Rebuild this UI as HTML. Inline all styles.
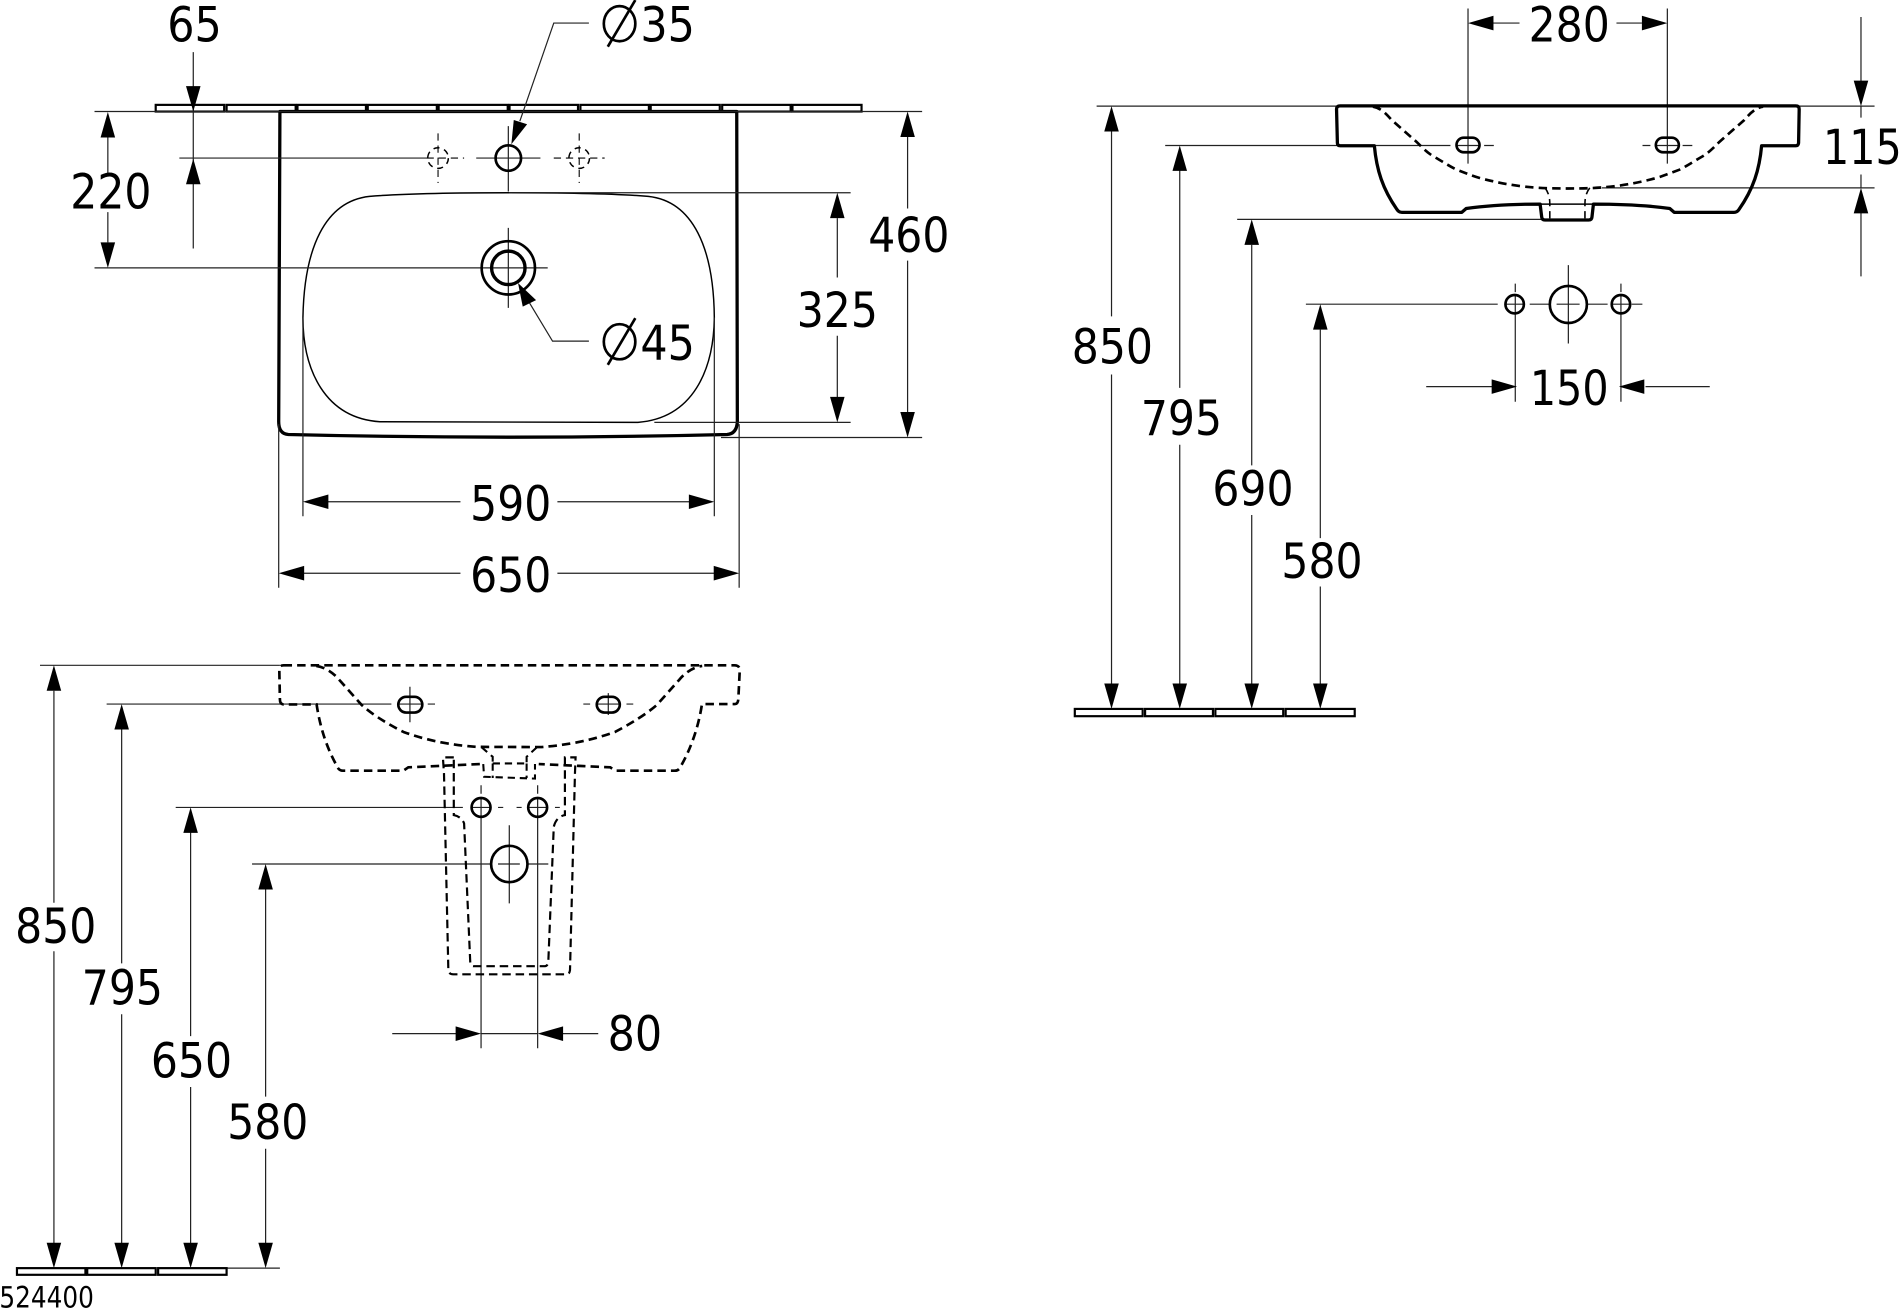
<!DOCTYPE html>
<html>
<head>
<meta charset="utf-8">
<style>
html,body{margin:0;padding:0;background:#fff}
svg{display:block}
text{font-family:"DejaVu Sans","Liberation Sans",sans-serif;font-size:40px;fill:#000;text-anchor:middle}
.d{fill:none;stroke:#222;stroke-width:1}
.s{fill:none;stroke:#000;stroke-width:2.7;stroke-linejoin:round}
.m{fill:none;stroke:#000;stroke-width:2.2}
.n{fill:none;stroke:#000;stroke-width:1.2}
.h{fill:none;stroke:#000;stroke-width:2.2;stroke-dasharray:7 4.200}
.c{fill:none;stroke:#000;stroke-width:.9;stroke-dasharray:6 4}
.t{fill:#fff;stroke:#000;stroke-width:1.8}
</style>
</head>
<body>
<svg xmlns="http://www.w3.org/2000/svg" width="1900" height="1310" viewBox="0 0 1568 1081">
<defs>
<polygon id="u" points="0,0 -6,21 6,21"/>
<polygon id="o" points="0,0 -6,-21 6,-21"/>
<polygon id="l" points="0,0 21,-6 21,6"/>
<polygon id="r" points="0,0 -21,-6 -21,6"/>
</defs>
<rect width="1568" height="1081" fill="#fff"/>

<!-- TOP VIEW -->
<g class="t">
<rect x="128.500" y="86.500" width="56.500" height="5.500"/><rect x="187" y="86.500" width="57" height="5.500"/><rect x="245.500" y="86.500" width="56.500" height="5.500"/><rect x="303.500" y="86.500" width="57" height="5.500"/><rect x="362" y="86.500" width="57" height="5.500"/><rect x="420.500" y="86.500" width="56.500" height="5.500"/><rect x="479" y="86.500" width="56.500" height="5.500"/><rect x="537" y="86.500" width="57" height="5.500"/><rect x="596" y="86.500" width="56.500" height="5.500"/><rect x="654" y="86.500" width="57" height="5.500"/>
</g>
<path class="s" d="M231,92 L230,348 Q230,358 238,358.500 Q420,363 600,358.500 Q608,358 608.500,348 L608,92 Z"/>
<path class="n" d="M420,159 C375,159 335,159.500 305,162 C268,166 251,205 250,262 C250,305 268,345 313.500,348 L526.500,348.500 C572,345 589,305 589.500,262 C589,205 572,166 535,162 C505,159.500 465,159 420,159 Z"/>
<path class="d" d="M78,92H761 M148,130.400H352 M78,221H452 M420,159H702 M540,348.500H702 M595,361H761
M159.500,43V205 M89,113V143 M89,175V200
M749,113V172 M749,215V340 M691,180V229 M691,277V328
M270,414H380 M460,414H569 M250,262V426 M589.500,262V426
M250,473H380 M460,473H590 M230,350V485 M610,350V485
M419.500,104V158 M393,130.400H446 M419.500,188V254
M486,19H457 L429,100 M486,281.500H456 L437,250"/>
<circle class="m" cx="419.500" cy="130.400" r="10.500"/>
<circle class="m" cx="419.500" cy="221" r="22"/>
<circle cx="419.500" cy="221" r="13.800" fill="none" stroke="#000" stroke-width="2.800"/>
<circle cx="361.500" cy="130.400" r="8.500" fill="none" stroke="#000" stroke-width="1.200" stroke-dasharray="5 4"/>
<circle cx="478" cy="130.400" r="8.500" fill="none" stroke="#000" stroke-width="1.200" stroke-dasharray="5 4"/>
<path class="c" d="M361.500,110V151 M352,130.400H383 M478,110V151 M457,130.400H499"/>
<polygon points="422,119 424,99 435,102.500"/>
<polygon points="427.500,233.500 431.400,253 442.400,247.600"/>
<use href="#o" x="159.500" y="92"/><use href="#u" x="159.500" y="131"/>
<use href="#u" x="89" y="92.400"/><use href="#o" x="89" y="221"/>
<use href="#u" x="749" y="92"/><use href="#o" x="749" y="361"/>
<use href="#u" x="691" y="159"/><use href="#o" x="691" y="348.500"/>
<use href="#l" x="250" y="414"/><use href="#r" x="589.500" y="414"/>
<use href="#l" x="230" y="473"/><use href="#r" x="610" y="473"/>
<ellipse class="m" cx="511.300" cy="19.500" rx="13" ry="14.500"/><path class="m" d="M501.600,38.500L524.300,0"/>
<ellipse class="m" cx="511.300" cy="282" rx="13" ry="14.500"/><path class="m" d="M501.600,301L524.300,262.500"/>
<text x="160.500" y="34" textLength="45" lengthAdjust="spacingAndGlyphs">65</text>
<text x="551" y="34" textLength="45" lengthAdjust="spacingAndGlyphs">35</text>
<text x="551" y="297" textLength="45" lengthAdjust="spacingAndGlyphs">45</text>
<text x="91.500" y="172" textLength="67" lengthAdjust="spacingAndGlyphs">220</text>
<text x="750" y="208" textLength="67" lengthAdjust="spacingAndGlyphs">460</text>
<text x="691" y="270" textLength="67" lengthAdjust="spacingAndGlyphs">325</text>
<text x="421.500" y="429.500" textLength="67" lengthAdjust="spacingAndGlyphs">590</text>
<text x="421.500" y="488.500" textLength="67" lengthAdjust="spacingAndGlyphs">650</text>

<!-- RIGHT FRONT VIEW -->
<path class="d" d="M905,87.500H1547 M961.600,120H1197 M1021,181H1272 M1322,155H1547 M1077.700,251H1236
M1211.500,7V135 M1376,7V135 M1224.800,120H1232.800 M1355.500,120H1362 M1388.600,120H1396.600
M1232,19H1254 M1334,19H1355 M1535.800,14V67 M1535.800,87V97 M1535.800,144V155 M1535.800,175V228
M917.300,108V261 M917.300,309V564 M973.600,140V320 M973.600,367V564 M1033,202V384 M1033,425V564 M1089.600,272V444 M1089.600,484V564
M1294.300,218.700V283.400 M1262.400,251H1278 M1310,251H1326.700 M1284.600,251H1303.600
M1250.500,234V241 M1250.500,244V331.500 M1337.700,234V241 M1337.700,244V331.500 M1346.600,251H1355.400 M1243,251H1258 M1330,251H1345
M1177,319H1232 M1358,319H1411 M1202,120H1221 M1366.500,120H1385.500"/>
<path class="s" d="M1106,87.300 L1482,87.300 Q1484.800,87.300 1484.800,90 L1484.300,118 Q1484,120.200 1482,120.200 L1453.800,120.200 C1452,140 1447,156 1435,173 Q1433.500,175.200 1431,175.200 L1381.700,175.200 L1378,172 C1360,169.500 1340,168.400 1315,168.400 L1313.800,179 Q1313.600,181.500 1311,181.500 L1275,181.500 Q1272.500,181.500 1272.300,179 L1271,168.400 C1248,168.400 1228,169.500 1210,172 L1206.300,175.200 L1157,175.200 Q1154.500,175.200 1153,173 C1141,156 1136,140 1134.200,120.200 L1106,120.200 Q1103.800,120.200 1103.700,118 L1103,90 Q1103,87.300 1106,87.300 Z"/>
<path class="n" d="M1271,168.400H1315"/>
<path class="h" d="M1133,88 C1140,89 1145,95 1148.500,99 L1169,117 C1175,123 1178,126 1183,129 C1190,133 1196,137 1202,140 C1210,143 1215,145 1221.500,147 C1233,150 1243,152 1254.400,153.500 C1270,155.400 1282,155.500 1294,155.500 C1306,155.500 1318,155.400 1333.600,153.500 C1345,152 1355,150 1366.500,147 C1373,145 1378,143 1386,140 C1392,137 1398,133 1405,129 C1410,126 1413,123 1419,117 L1439.500,99 C1443,95 1448,89 1455,88"/>
<path fill="none" stroke="#000" stroke-width="1.300" stroke-dasharray="6 4" d="M1275,155 Q1279,160 1279,168 V181 M1312,155 Q1308,160 1308,168 V181"/>
<rect class="m" x="1202" y="113.600" width="19" height="12" rx="6"/>
<rect class="m" x="1366.500" y="113.600" width="19" height="12" rx="6"/>
<circle class="m" cx="1294.300" cy="251.200" r="15.300"/>
<circle class="m" cx="1250" cy="251" r="7.600"/>
<circle class="m" cx="1337.700" cy="251" r="7.600"/>
<g class="t"><rect x="887" y="585" width="56" height="6"/><rect x="945" y="585" width="56" height="6"/><rect x="1003" y="585" width="56" height="6"/><rect x="1061" y="585" width="57" height="6"/></g>
<use href="#l" x="1211.500" y="19"/><use href="#r" x="1376" y="19"/>
<use href="#o" x="1535.800" y="87.500"/><use href="#u" x="1535.800" y="155"/>
<use href="#u" x="917.300" y="87.500"/><use href="#o" x="917.300" y="585"/>
<use href="#u" x="973.600" y="120"/><use href="#o" x="973.600" y="585"/>
<use href="#u" x="1033" y="181"/><use href="#o" x="1033" y="585"/>
<use href="#u" x="1089.600" y="251"/><use href="#o" x="1089.600" y="585"/>
<use href="#r" x="1252" y="319"/><use href="#l" x="1336" y="319"/>
<text x="1295" y="34" textLength="67" lengthAdjust="spacingAndGlyphs">280</text>
<text x="1537" y="135.500" textLength="65" lengthAdjust="spacingAndGlyphs">115</text>
<text x="918" y="300" textLength="67" lengthAdjust="spacingAndGlyphs">850</text>
<text x="975" y="359" textLength="67" lengthAdjust="spacingAndGlyphs">795</text>
<text x="1034" y="417" textLength="67" lengthAdjust="spacingAndGlyphs">690</text>
<text x="1091" y="477" textLength="67" lengthAdjust="spacingAndGlyphs">580</text>
<text x="1295" y="334" textLength="65" lengthAdjust="spacingAndGlyphs">150</text>

<!-- LOWER LEFT VIEW -->
<path class="d" d="M33,549H231 M88,581H323 M353,581H359 M481.400,581H487 M517,581H522.600 M145,666.300H382 M411,666.300H415.300 M426.300,666.300H430.500 M458,666.300H462
M208,713H405 M411,713H429 M436,713H452.500
M338.300,566.700V596 M502,572V590 M328,581H348 M492,581H512
M397,648V655 M397,658V865 M443.700,648V655 M443.700,658V865 M389,666.300H405 M436,666.300H451.500
M420.300,681V745.500 M420.300,704V722
M323.700,853H376.300 M397,853H443.700 M464.300,853H493.700
M44.500,570V745 M44.500,785V1026 M100.400,602V795 M100.400,837V1026 M157.300,687V855 M157.300,897V1026 M219.200,734V905 M219.200,948V1026 M187,1046.500H231"/>
<path class="h" d="M234,549 L606,549 Q610.500,549 610.500,553 L609.300,577 Q609,581 606.500,581 L579.300,581 C576.500,600 570,618 562,632 Q560.500,636 557,636 L507.800,636 L503.600,633.200 L477.600,632 L444.600,630.500 M396,630.500 L363,632 L337,633.200 L332.800,636 L283,636 Q279.500,636 278,632 C270,618 264,600 261.300,581.300 L233.800,581.300 Q231,581 231,577 L230.500,553 Q230.500,549 234,549"/>
<path class="h" d="M261,549.500 C268,550.500 275,555 280,561 L298.500,581.800 C310,592 325,600 333,604 C355,612 375,615 393,616.300 L447,616.500 C465,615 485,612 507.600,604 C515,600 530,592 542,581.800 L560.500,561 C565.500,555 572,550.500 579.500,549.500"/>
<path fill="none" stroke="#000" stroke-width="1.700" stroke-dasharray="6 4" d="M398.800,630.500 L399.500,641 L441.500,642.500 L441.500,630.500 M406.600,630 H434.600 M406.600,630 V642 M434.600,630 V642 M397.500,616.700 L406.600,624.500 L406.600,630 M443,616.700 L434.600,624.500 L434.600,630"/>
<path fill="none" stroke="#000" stroke-width="1.800" stroke-dasharray="7 4" d="M374.500,625 H365.500 L366.400,638 L370,800.600 Q370.500,804 374,804 L467.600,804 Q470,804 470.400,800.600 L474.500,638 L475,625 H466.200 V672.600 Q459,674 457,682.300 L452.500,793.700 Q452,797.300 449.700,797.300 L390.600,797.300 Q388,797 388,792.300 L383,679.500 Q381,674 374.500,672.600 Z"/>
<circle class="m" cx="397" cy="666.300" r="7.800"/>
<circle class="m" cx="443.700" cy="666.300" r="7.800"/>
<circle class="m" cx="420.300" cy="713" r="15"/>
<rect class="m" x="328.700" y="575" width="19.800" height="13" rx="6.500"/>
<rect class="m" x="492.500" y="575" width="19" height="13" rx="6.500"/>
<g class="t"><rect x="14" y="1046.500" width="56.500" height="5.500"/><rect x="72" y="1046.500" width="56.500" height="5.500"/><rect x="130.500" y="1046.500" width="56.500" height="5.500"/></g>
<use href="#u" x="44.500" y="549"/><use href="#o" x="44.500" y="1046.500"/>
<use href="#u" x="100.400" y="581"/><use href="#o" x="100.400" y="1046.500"/>
<use href="#u" x="157.300" y="666.300"/><use href="#o" x="157.300" y="1046.500"/>
<use href="#u" x="219.200" y="713"/><use href="#o" x="219.200" y="1046.500"/>
<use href="#r" x="397" y="853"/><use href="#l" x="443.700" y="853"/>
<text x="46" y="778" textLength="67" lengthAdjust="spacingAndGlyphs">850</text>
<text x="101" y="829" textLength="67" lengthAdjust="spacingAndGlyphs">795</text>
<text x="158" y="889" textLength="67" lengthAdjust="spacingAndGlyphs">650</text>
<text x="221" y="940" textLength="67" lengthAdjust="spacingAndGlyphs">580</text>
<text x="524" y="867" textLength="45" lengthAdjust="spacingAndGlyphs">80</text>
<text x="38.500" y="1079" textLength="78" lengthAdjust="spacingAndGlyphs" style="font-size:24px">524400</text>
</svg>
</body>
</html>
